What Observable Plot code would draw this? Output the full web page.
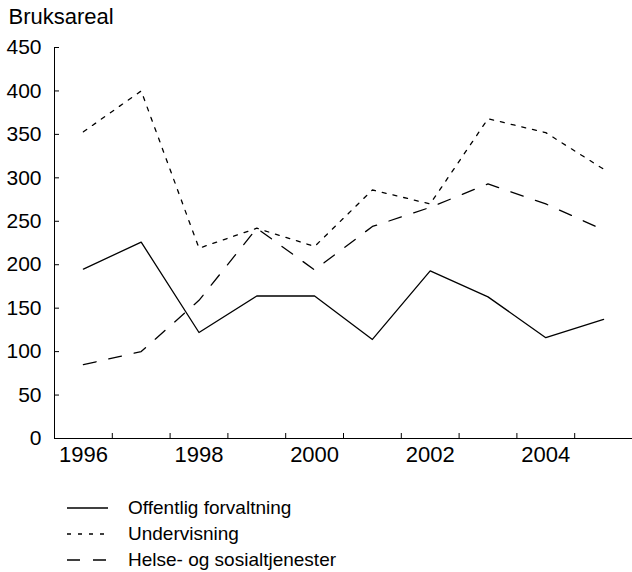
<!DOCTYPE html>
<html>
<head>
<meta charset="utf-8">
<script src="https://cdn.jsdelivr.net/npm/d3@7"></script>
<script src="https://cdn.jsdelivr.net/npm/@observablehq/plot@0.6"></script>
<style>
  body { margin: 0; background: #fff; font-family: "Liberation Sans", Arial, sans-serif; }
  #legend { margin-left: 67px; margin-top: 20px; }
  .row { display: flex; align-items: center; height: 26px; font-size: 19px; color: #000; }
  .row svg { margin-right: 20px; }
</style>
</head>
<body>
<div id="chart"></div>
<div id="legend"></div>
<script>
const years = [1996, 1997, 1998, 1999, 2000, 2001, 2002, 2003, 2004, 2005];
const seriesNames = ["Offentlig forvaltning", "Undervisning", "Helse- og sosialtjenester"];
const offentlig = [195, 226, 122, 164, 164, 114, 193, 163, 116, 137];
const undervisning = [353, 400, 219, 242, 221, 286, 270, 368, 352, 310];
const helse = [85, 100, 159, 242, 194, 244, 266, 293, 270, 240];
const yTicks = [0, 50, 100, 150, 200, 250, 300, 350, 400, 450];
const xLabels = [1996, 1998, 2000, 2002, 2004];
const xBoundaries = [1996.5, 1997.5, 1998.5, 1999.5, 2000.5, 2001.5, 2002.5, 2003.5, 2004.5];
const dashes = [null, "4,7", "13,13"];
const yTitle = "Bruksareal";

const W = 632, H = 475, mL = 54, mR = 0, mT = 47, mB = 37;
const frameW = W - mL - mR, frameH = H - mT - mB;
const allSeries = [offentlig, undervisning, helse];
const rows = allSeries.flatMap((vals, s) => vals.map((v, i) => ({series: seriesNames[s], year: years[i], value: v})));

const plot = Plot.plot({
  width: W, height: H,
  marginLeft: mL, marginRight: mR, marginTop: mT, marginBottom: mB,
  style: {fontFamily: '"Liberation Sans", Arial, sans-serif', background: "#fff", color: "#000"},
  x: {domain: [1995.5, 2005.5], axis: null},
  y: {domain: [0, 450], axis: null},
  marks: [
    Plot.axisY({ticks: yTicks, tickSize: 0, tickPadding: 13, fontSize: 21, label: null}),
    Plot.axisX({ticks: xLabels, tickSize: 0, tickPadding: 8, fontSize: 22, label: null, tickFormat: d => String(d)}),
    Plot.tickY(yTicks, {y: d => d, insetRight: frameW - 5, stroke: "#000", strokeWidth: 1}),
    Plot.tickX(xBoundaries, {x: d => d, insetTop: frameH - 5, stroke: "#000", strokeWidth: 1}),
    Plot.ruleX([1995.5], {stroke: "#000", strokeWidth: 1}),
    Plot.ruleY([0], {stroke: "#000", strokeWidth: 1}),
    ...seriesNames.map((name, s) => Plot.line(rows.filter(r => r.series === name), {
      x: "year", y: "value", stroke: "#000", strokeWidth: 1.3,
      strokeDasharray: dashes[s] || undefined
    })),
    Plot.text([yTitle], {frameAnchor: "top-left", dx: -46, dy: -24, textAnchor: "start", lineAnchor: "bottom", fontSize: 22, fill: "#000"})
  ]
});
document.getElementById("chart").appendChild(plot);

const legend = document.getElementById("legend");
seriesNames.forEach((name, s) => {
  const row = document.createElement("div");
  row.className = "row";
  const dash = dashes[s] ? ` stroke-dasharray="${dashes[s]}"` : "";
  row.innerHTML = `<svg width="41" height="10"><line x1="0" x2="41" y1="5" y2="5" stroke="#000" stroke-width="1.3"${dash}/></svg><span>${name}</span>`;
  legend.appendChild(row);
});
</script>
</body>
</html>
